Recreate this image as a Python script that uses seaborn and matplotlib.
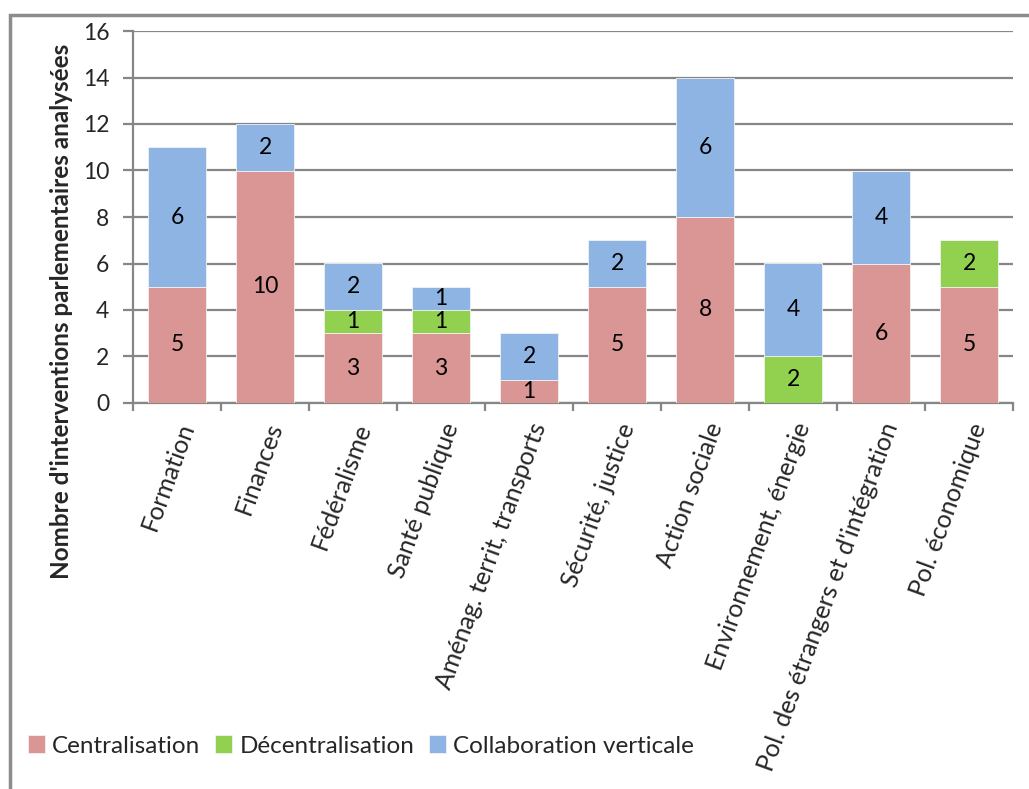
import matplotlib
matplotlib.use("Agg")
import matplotlib.pyplot as plt
import seaborn as sns
import numpy as np
from matplotlib.patches import Rectangle
from matplotlib.ticker import FixedLocator

# Policy domains and counts of parliamentary interventions per orientation
categories = [
    "Formation", "Finances", "Fédéralisme", "Santé publique",
    "Aménag. territ, transports", "Sécurité, justice", "Action sociale",
    "Environnement, énergie", "Pol. des étrangers et d'intégration",
    "Pol. économique",
]
centralisation = [5, 10, 3, 3, 1, 5, 8, 0, 6, 5]
decentralisation = [0, 0, 1, 1, 0, 0, 0, 2, 0, 2]
collaboration = [6, 2, 2, 1, 2, 2, 6, 4, 4, 0]
series_names = ["Centralisation", "Décentralisation", "Collaboration verticale"]
y_ticks = [0, 2, 4, 6, 8, 10, 12, 14, 16]

colors = ["#D99694", "#92D050", "#8EB4E3"]
grid_color = "#868686"

sns.set_theme(style="white")
plt.rcParams["font.family"] = ["Lato", "DejaVu Sans"]

fig = plt.figure(figsize=(10.29, 7.89), dpi=100)
ax = fig.add_axes([133 / 1029, 1 - 403 / 789, (1013 - 133) / 1029, (403 - 31) / 789])

series = [centralisation, decentralisation, collaboration]
bottom = np.zeros(len(categories))
for name, vals, col in zip(series_names, series, colors):
    vals = np.asarray(vals, dtype=float)
    sns.barplot(x=categories, y=vals, bottom=bottom, color=col, width=0.66,
                ax=ax, label=name, linewidth=0.6, edgecolor="#f2f2f2",
                saturation=1, zorder=3)
    for i, v in enumerate(vals):
        if v > 0:
            ax.text(i, bottom[i] + v / 2, f"{int(v)}", ha="center", va="center",
                    fontsize=16.5, color="black", zorder=4)
    bottom = bottom + vals

ax.set_xlim(-0.5, len(categories) - 0.5)
ax.set_ylim(0, 16)
ax.set_yticks(y_ticks)
ax.set_yticklabels([str(t) for t in y_ticks], fontsize=16.5)
ax.yaxis.grid(True, color=grid_color, linewidth=1.6, zorder=0)
ax.set_axisbelow(True)

ax.set_xticks(range(len(categories)))
ax.set_xticklabels(categories, rotation=70, ha="right", rotation_mode="anchor",
                   fontsize=18)
ax.xaxis.set_minor_locator(FixedLocator(np.arange(-0.5, len(categories), 1.0)))
ax.tick_params(axis="x", which="major", length=0, pad=12)
ax.tick_params(axis="x", which="minor", length=6, width=1.6, color=grid_color,
               direction="out", bottom=True)
ax.tick_params(axis="y", length=7, width=1.6, color=grid_color, direction="out",
               left=True, pad=10)
ax.set_xlabel("")
ax.set_ylabel("")

# Axis title centred on the chart area rather than on the plot box
fig.text(62 / 1029, 1 - 311 / 789, "Nombre d'interventions parlementaires analysées",
         rotation=90, ha="center", va="center", fontsize=17.5, fontweight="bold")

for side in ["top", "right"]:
    ax.spines[side].set_visible(False)
for side in ["left", "bottom"]:
    ax.spines[side].set_color(grid_color)
    ax.spines[side].set_linewidth(1.6)

handles, labels = ax.get_legend_handles_labels()
if ax.legend_ is not None:
    ax.legend_.remove()
fig.legend(handles, labels, loc="center left",
           bbox_to_anchor=(28 / 1029, 1 - 746 / 789), ncol=3, frameon=False,
           fontsize=17.5, handlelength=0.7, handleheight=0.7,
           handletextpad=0.3, columnspacing=0.6, borderaxespad=0, borderpad=0)

# Outer frame of the chart area
fig.patches.append(Rectangle((10 / 1029, -0.1), 1.2, 1 - 15 / 789 + 0.1,
                             transform=fig.transFigure, fill=False,
                             edgecolor="#8c8c8c", linewidth=2.5, zorder=0))

fig.savefig("out.png", dpi=100)
